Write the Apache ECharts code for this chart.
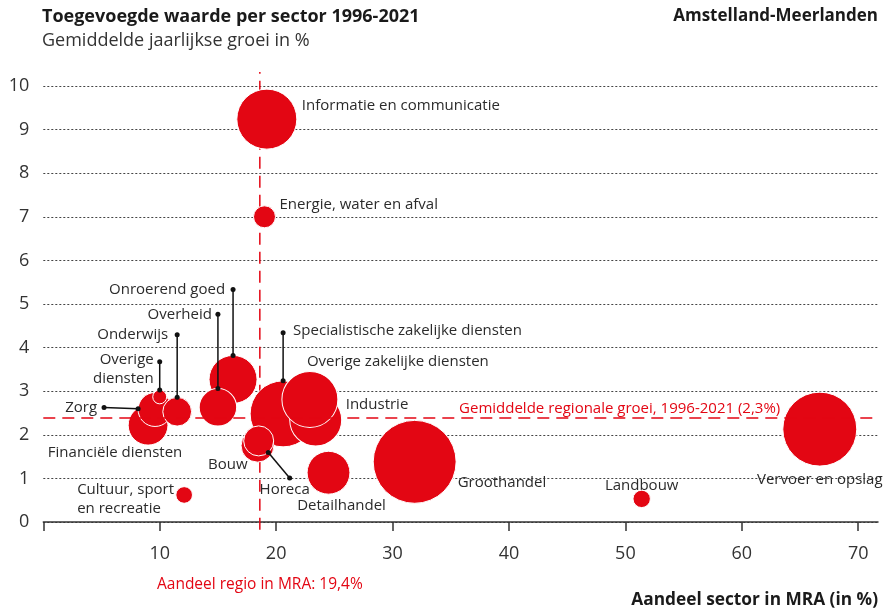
<!DOCTYPE html>
<html>
<head>
<meta charset="utf-8">
<script src="https://cdn.jsdelivr.net/npm/echarts@6/dist/echarts.min.js"></script>
<style>
  html, body { margin: 0; padding: 0; background: #fff; }
  #chart { width: 889px; height: 608px; }
</style>
</head>
<body>
<div id="chart"></div>
<script>
// ---- data ----
const sectoren = [
  "Groothandel", "Vervoer en opslag", "Specialistische zakelijke diensten", "Industrie",
  "Overige zakelijke diensten", "Informatie en communicatie", "Onroerend goed", "Detailhandel",
  "Financiële diensten", "Overheid", "Zorg", "Onderwijs", "Bouw", "Horeca",
  "Energie, water en afval", "Overige diensten", "Cultuur, sport en recreatie", "Landbouw"
];
// aandeel sector in MRA (%)
const aandeel = [31.9, 66.7, 20.6, 23.4, 22.9, 19.2, 16.3, 24.5, 9.0, 15.0, 9.6, 11.5, 18.4, 18.5, 19.0, 10.0, 12.1, 51.4];
// gemiddelde jaarlijkse groei (%)
const groei = [1.38, 2.13, 2.48, 2.34, 2.81, 9.24, 3.27, 1.13, 2.22, 2.63, 2.58, 2.53, 1.75, 1.86, 7.0, 2.87, 0.62, 0.53];
// omvang sector (bepaalt bolgrootte)
const omvang = [191, 152, 121, 75, 87, 100, 64, 51, 44, 39, 32, 23, 30, 25, 13.4, 5.4, 7.7, 8.4];

const regioGroei = 2.38;      // positie gemiddelde regionale groei (2,3%)
const regioAandeel = 18.6;    // positie aandeel regio in MRA (19,4%)
const xTicks = [0, 10, 20, 30, 40, 50, 60, 70];
const xLabels = [10, 20, 30, 40, 50, 60, 70];

// ---- opmaak labels: offset in px t.o.v. bolcentrum, eventueel met verbindingslijn ----
const labelLayout = {
  "Groothandel": { dx: 43, dy: 21, align: "left" },
  "Vervoer en opslag": { dx: 0, dy: 51, align: "center" },
  "Specialistische zakelijke diensten": { leader: [0, -81], dx: 10, dy: -2, align: "left" },
  "Industrie": { dx: 30, dy: -15, align: "left" },
  "Overige zakelijke diensten": { dx: -3, dy: -38, align: "left" },
  "Informatie en communicatie": { dx: 35, dy: -13, align: "left" },
  "Onroerend goed": { leader: [0, -90], dx: -8, dy: 0, align: "right" },
  "Detailhandel": { dx: 13, dy: 33, align: "center" },
  "Financiële diensten": { dx: -33, dy: 28, align: "center" },
  "Overheid": { leader: [0, -93], dx: -6, dy: 0, align: "right" },
  "Zorg": { leader: [-51, -2], dx: -7, dy: 0, align: "right" },
  "Onderwijs": { leader: [0, -77], dx: -9, dy: 0, align: "right" },
  "Bouw": { dx: -10, dy: 19, align: "right" },
  "Horeca": { leader: [31, 37], dx: -5, dy: 12, align: "center" },
  "Energie, water en afval": { dx: 15, dy: -12, align: "left" },
  "Overige diensten": { leader: [0, -35], dx: -6, dy: 7, align: "right", text: "Overige\ndiensten" },
  "Cultuur, sport en recreatie": { dx: -107, dy: 4, align: "left", text: "Cultuur, sport\nen recreatie" },
  "Landbouw": { dx: 0, dy: -13, align: "center" }
};

const ROOD = "#e30613";
const TEKST = "#2b2b2b";
const FONT = "'Open Sans', Lato, sans-serif";

const bolGrootte = (v) => Math.sqrt(v) * 6;

const punten = sectoren.map((s, i) => [aandeel[i], groei[i], omvang[i]]);

const chart = echarts.init(document.getElementById("chart"), null, { renderer: "canvas" });

const option = {
  animation: false,
  textStyle: { fontFamily: FONT },
  title: [
    {
      text: "Toegevoegde waarde per sector 1996-2021",
      left: 42, top: 8, padding: 0,
      textStyle: { fontFamily: FONT, fontSize: 18, fontWeight: "bold", color: "#1a1a1a" }
    },
    {
      text: "Gemiddelde jaarlijkse groei in %",
      left: 42, top: 32, padding: 0,
      textStyle: { fontFamily: FONT, fontSize: 18, fontWeight: "normal", color: "#333" }
    },
    {
      text: "Amstelland-Meerlanden",
      right: 11, top: 8, padding: 0,
      textStyle: { fontFamily: FONT, fontSize: 17, fontWeight: "bold", color: "#1a1a1a" }
    },
    {
      text: "Aandeel sector in MRA (in %)",
      right: 11, top: 592, padding: 0,
      textStyle: { fontFamily: FONT, fontSize: 17.3, fontWeight: "bold", color: "#1a1a1a" }
    }
  ],
  grid: { left: 43.3, right: 11, top: 86, bottom: 86 },
  xAxis: {
    type: "value",
    min: 0,
    max: 71.7,
    splitLine: { show: false },
    axisLine: { show: true, lineStyle: { color: "#333", width: 1.5 } },
    axisTick: { show: true, customValues: xTicks, length: 9, lineStyle: { color: "#333", width: 1.5 } },
    axisLabel: { customValues: xLabels, margin: 23, fontSize: 18, color: "#333", fontFamily: FONT }
  },
  yAxis: {
    type: "value",
    min: 0,
    max: 10,
    interval: 1,
    axisLine: { show: false },
    axisTick: { show: false },
    axisLabel: { margin: 14, fontSize: 18, color: "#333", fontFamily: FONT },
    splitLine: { show: true, lineStyle: { color: "#444", width: 1, type: [2, 2] } }
  },
  series: [
    {
      // verticale lijn: aandeel regio + horizontale lijn: gemiddelde groei
      type: "line",
      z: 1,
      clip: false,
      silent: true,
      symbol: "none",
      data: [[regioAandeel, -0.18], [regioAandeel, 10.32]],
      lineStyle: { color: ROOD, width: 1.5, type: [12, 7] },
      markLine: {
        silent: true,
        symbol: "none",
        label: { show: false },
        lineStyle: { color: ROOD, width: 1.5, type: [12, 7] },
        data: [{ yAxis: regioGroei }]
      }
    },
    {
      type: "scatter",
      z: 2,
      silent: true,
      data: punten,
      symbolSize: (v) => bolGrootte(v[2]),
      itemStyle: { color: ROOD, borderColor: "#fff", borderWidth: 1, opacity: 1 },
      emphasis: { disabled: true }
    },
    {
      // labels en verbindingslijnen
      type: "custom",
      z: 3,
      silent: true,
      data: punten,
      encode: { x: 0, y: 1 },
      renderItem: (params, api) => {
        const i = params.dataIndex;
        const naam = sectoren[i];
        const L = labelLayout[naam];
        const c = api.coord([api.value(0), api.value(1)]);
        const r = bolGrootte(api.value(2)) / 2;
        const children = [];
        let tx = c[0] + L.dx;
        let ty = c[1] + L.dy;
        if (L.leader) {
          const ax = c[0] + L.leader[0];
          const ay = c[1] + L.leader[1];
          const d = Math.hypot(ax - c[0], ay - c[1]);
          const ex = c[0] + ((ax - c[0]) / d) * r;
          const ey = c[1] + ((ay - c[1]) / d) * r;
          children.push({
            type: "line",
            shape: { x1: ex, y1: ey, x2: ax, y2: ay },
            style: { stroke: "#111", lineWidth: 1.5 }
          });
          children.push({ type: "circle", shape: { cx: ex, cy: ey, r: 2.5 }, style: { fill: "#111" } });
          children.push({ type: "circle", shape: { cx: ax, cy: ay, r: 2.5 }, style: { fill: "#111" } });
          tx = ax + L.dx;
          ty = ay + L.dy;
        }
        children.push({
          type: "text",
          x: tx,
          y: ty,
          style: {
            text: L.text || naam,
            fill: TEKST,
            font: "15px " + FONT,
            lineHeight: 19,
            align: L.align,
            verticalAlign: "middle"
          }
        });
        return { type: "group", children };
      }
    }
  ]
};

chart.setOption(option);

// tekst bij de referentielijnen, geplaatst via de assen
const pGroei = chart.convertToPixel({ gridIndex: 0 }, [63.3, regioGroei]);
const pAandeel = chart.convertToPixel({ gridIndex: 0 }, [regioAandeel, 0]);
chart.setOption({
  graphic: [
    {
      type: "text",
      x: pGroei[0],
      y: pGroei[1] - 9,
      style: {
        text: "Gemiddelde regionale groei, 1996-2021 (2,3%)",
        fill: ROOD,
        font: "15px " + FONT,
        align: "right",
        verticalAlign: "middle"
      }
    },
    {
      type: "text",
      x: pAandeel[0],
      y: pAandeel[1] + 63,
      style: {
        text: "Aandeel regio in MRA: 19,4%",
        fill: ROOD,
        font: "15.5px " + FONT,
        align: "center",
        verticalAlign: "middle"
      }
    }
  ]
});
</script>
</body>
</html>
